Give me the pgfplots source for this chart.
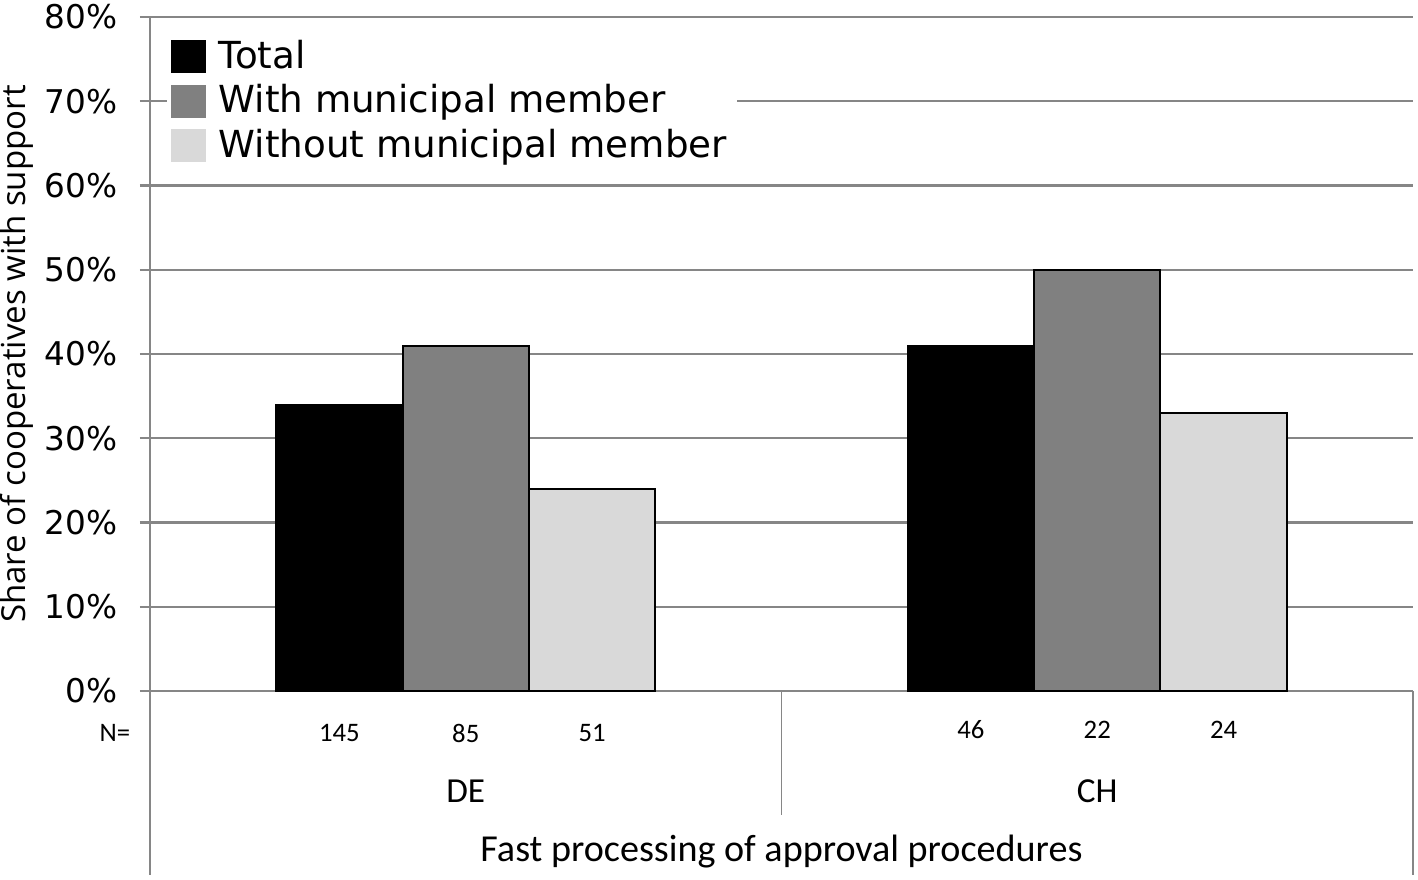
\documentclass[border=0pt]{standalone}
\usepackage{pgfplots}
\pgfplotsset{compat=1.18}
\usepackage{fontspec}
\setmainfont{DejaVu Sans}
\newfontfamily\calib{Carlito}
\newfontfamily\opens{Open Sans}
\definecolor{gridgray}{RGB}{134,134,134}
\definecolor{midgray}{RGB}{128,128,128}
\definecolor{lightgray}{RGB}{217,217,217}
\begin{document}
\begin{tikzpicture}
\begin{axis}[scale only axis,width=12.63cm,height=6.74cm,
 ybar,bar width=0.2,
 xmin=-0.5,xmax=1.5,ymin=0,ymax=80,
 xtick=\empty,ytick={0,10,...,80},
 yticklabel={\pgfmathprintnumber{\tick}\%},
 /pgf/number format/assume math mode=true,
 y tick label style={font=\fontsize{9.3}{11}\selectfont,xshift=-0.1cm},
 axis x line*=bottom,axis y line*=left,
 axis line style={gridgray,line width=0.5pt,-},
 tick align=outside,major tick length=0.1cm,
 tick style={gridgray,line width=0.6pt},
 ymajorgrids,grid style={gridgray,line width=0.6pt},
 clip=false,
 ylabel={Share of cooperatives with support},
 every axis y label/.style={at={(axis description cs:0,0.5)},xshift=-1.33cm,rotate=90,anchor=center,font=\opens\fontsize{9.4}{11}\selectfont},
 legend style={at={(0.013,0.983)},anchor=north west,draw=none,fill=white,
  font=\fontsize{10.6}{11.8}\selectfont,inner sep=1pt,row sep=-0.85pt,
  /tikz/every odd column/.append style={column sep=0.06cm}},
 legend cell align=left,
 legend image code/.code={\fill[#1,draw=none] (0cm,-0.165cm) rectangle (0.35cm,0.165cm);},
]
\addplot[fill=black,draw=black,line width=0.6pt,bar shift=-0.2] coordinates {(0,34) (1,41)};
\addplot[fill=midgray,draw=black,line width=0.6pt,bar shift=0] coordinates {(0,41) (1,50)};
\addplot[fill=lightgray,draw=black,line width=0.6pt,bar shift=0.2] coordinates {(0,24) (1,33)};
\legend{Total,With municipal member,Without municipal member}
% category table below the axis
\draw[gridgray,line width=0.5pt] (axis cs:0.5,0) -- ([yshift=-1.24cm]axis cs:0.5,0);
\draw[gridgray,line width=0.5pt] (axis cs:-0.5,0) -- ([yshift=-1.84cm]axis cs:-0.5,0);
\draw[gridgray,line width=0.5pt] (axis cs:1.5,0) -- ([yshift=-1.84cm]axis cs:1.5,0);
\begin{scope}[every node/.style={font=\calib\fontsize{7.6}{9}\selectfont}]
\node[yshift=-0.42cm] at (axis cs:-0.5,0) [xshift=-0.35cm] {N=};
\node[yshift=-0.42cm] at (axis cs:-0.2,0) {145};
\node[yshift=-0.42cm] at (axis cs:0,0) {85};
\node[yshift=-0.42cm] at (axis cs:0.2,0) {51};
\node[yshift=-0.39cm] at (axis cs:0.8,0) {46};
\node[yshift=-0.39cm] at (axis cs:1,0) {22};
\node[yshift=-0.39cm] at (axis cs:1.2,0) {24};
\end{scope}
\begin{scope}[every node/.style={font=\calib\fontsize{10}{12}\selectfont}]
\node[yshift=-1.0cm] at (axis cs:0,0) {DE};
\node[yshift=-1.0cm] at (axis cs:1,0) {CH};
\node[yshift=-1.61cm,font=\calib\fontsize{10.85}{13}\selectfont] at (axis cs:0.5,0) {Fast processing of approval procedures};
\end{scope}
\end{axis}
\pgfresetboundingbox
\path (-1.5,-1.88) rectangle (12.68,6.91);
\end{tikzpicture}
\end{document}
